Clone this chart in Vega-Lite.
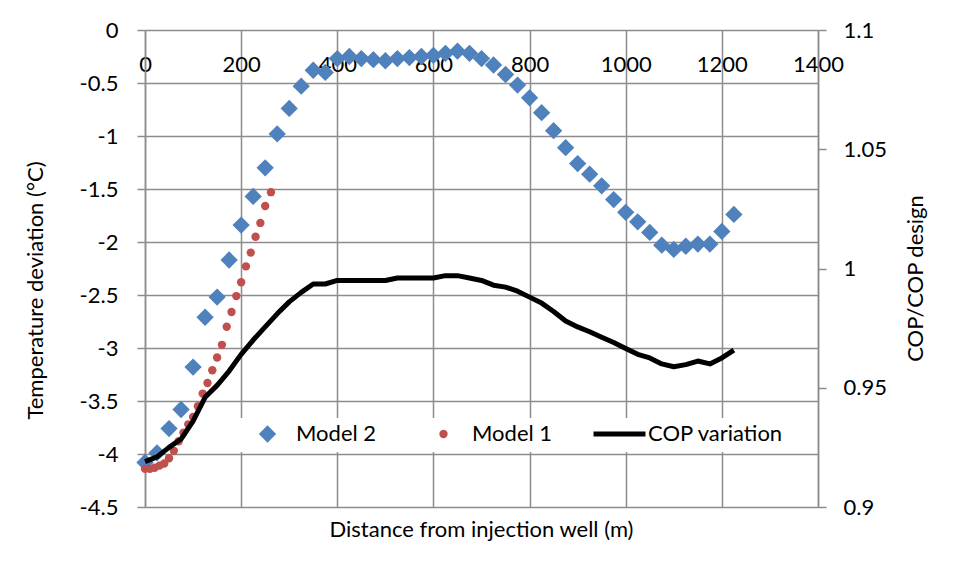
{
  "$schema": "https://vega.github.io/schema/vega-lite/v6.json",
  "width": 673,
  "height": 477,
  "autosize": {"type": "none"},
  "padding": {"left": 145, "top": 30, "right": 135, "bottom": 72},
  "background": "white",
  "title": {"text": "Distance from injection well (m)", "orient": "bottom", "anchor": "middle", "frame": "group", "baseline": "top", "offset": 2, "font": "Lato", "fontSize": 22, "fontWeight": "normal", "color": "black"},
  "config": {
    "view": {"stroke": null},
    "axis": {"labelFont": "Lato", "labelFontSize": 22, "labelColor": "black", "titleFont": "Lato", "titleFontSize": 22, "titleFontWeight": "normal", "titleColor": "black", "gridColor": "#8c8c8c", "gridWidth": 1.5, "gridOpacity": 1, "domainColor": "#8c8c8c", "domainWidth": 1.5, "tickColor": "#8c8c8c", "tickWidth": 1.5}
  },
  "layer": [
    {
      "data": {"values": [
        {"series": "Model 2", "d": 0, "t": -4.08}, {"series": "Model 2", "d": 25, "t": -3.99}, {"series": "Model 2", "d": 50, "t": -3.76}, {"series": "Model 2", "d": 75, "t": -3.58}, {"series": "Model 2", "d": 100, "t": -3.18}, {"series": "Model 2", "d": 125, "t": -2.71}, {"series": "Model 2", "d": 150, "t": -2.52}, {"series": "Model 2", "d": 175, "t": -2.17}, {"series": "Model 2", "d": 200, "t": -1.84}, {"series": "Model 2", "d": 225, "t": -1.57}, {"series": "Model 2", "d": 250, "t": -1.30}, {"series": "Model 2", "d": 275, "t": -0.98}, {"series": "Model 2", "d": 300, "t": -0.74}, {"series": "Model 2", "d": 325, "t": -0.53}, {"series": "Model 2", "d": 350, "t": -0.38}, {"series": "Model 2", "d": 375, "t": -0.40}, {"series": "Model 2", "d": 400, "t": -0.27}, {"series": "Model 2", "d": 425, "t": -0.25}, {"series": "Model 2", "d": 450, "t": -0.27}, {"series": "Model 2", "d": 475, "t": -0.28}, {"series": "Model 2", "d": 500, "t": -0.29}, {"series": "Model 2", "d": 525, "t": -0.27}, {"series": "Model 2", "d": 550, "t": -0.26}, {"series": "Model 2", "d": 575, "t": -0.25}, {"series": "Model 2", "d": 600, "t": -0.24}, {"series": "Model 2", "d": 625, "t": -0.22}, {"series": "Model 2", "d": 650, "t": -0.20}, {"series": "Model 2", "d": 675, "t": -0.22}, {"series": "Model 2", "d": 700, "t": -0.27}, {"series": "Model 2", "d": 725, "t": -0.33}, {"series": "Model 2", "d": 750, "t": -0.42}, {"series": "Model 2", "d": 775, "t": -0.52}, {"series": "Model 2", "d": 800, "t": -0.64}, {"series": "Model 2", "d": 825, "t": -0.78}, {"series": "Model 2", "d": 850, "t": -0.95}, {"series": "Model 2", "d": 875, "t": -1.11}, {"series": "Model 2", "d": 900, "t": -1.26}, {"series": "Model 2", "d": 925, "t": -1.36}, {"series": "Model 2", "d": 950, "t": -1.47}, {"series": "Model 2", "d": 975, "t": -1.60}, {"series": "Model 2", "d": 1000, "t": -1.72}, {"series": "Model 2", "d": 1025, "t": -1.81}, {"series": "Model 2", "d": 1050, "t": -1.91}, {"series": "Model 2", "d": 1075, "t": -2.03}, {"series": "Model 2", "d": 1100, "t": -2.07}, {"series": "Model 2", "d": 1125, "t": -2.04}, {"series": "Model 2", "d": 1150, "t": -2.02}, {"series": "Model 2", "d": 1175, "t": -2.02}, {"series": "Model 2", "d": 1200, "t": -1.90}, {"series": "Model 2", "d": 1225, "t": -1.74},
        {"series": "Model 1", "d": 0, "t": -4.14}, {"series": "Model 1", "d": 10, "t": -4.14}, {"series": "Model 1", "d": 20, "t": -4.13}, {"series": "Model 1", "d": 30, "t": -4.11}, {"series": "Model 1", "d": 40, "t": -4.09}, {"series": "Model 1", "d": 50, "t": -4.04}, {"series": "Model 1", "d": 60, "t": -3.97}, {"series": "Model 1", "d": 70, "t": -3.88}, {"series": "Model 1", "d": 80, "t": -3.80}, {"series": "Model 1", "d": 90, "t": -3.72}, {"series": "Model 1", "d": 100, "t": -3.65}, {"series": "Model 1", "d": 110, "t": -3.55}, {"series": "Model 1", "d": 120, "t": -3.43}, {"series": "Model 1", "d": 130, "t": -3.33}, {"series": "Model 1", "d": 140, "t": -3.21}, {"series": "Model 1", "d": 150, "t": -3.09}, {"series": "Model 1", "d": 160, "t": -2.97}, {"series": "Model 1", "d": 170, "t": -2.80}, {"series": "Model 1", "d": 180, "t": -2.66}, {"series": "Model 1", "d": 190, "t": -2.51}, {"series": "Model 1", "d": 200, "t": -2.38}, {"series": "Model 1", "d": 210, "t": -2.23}, {"series": "Model 1", "d": 220, "t": -2.10}, {"series": "Model 1", "d": 230, "t": -1.95}, {"series": "Model 1", "d": 240, "t": -1.82}, {"series": "Model 1", "d": 250, "t": -1.66}, {"series": "Model 1", "d": 262, "t": -1.53}
      ]},
      "mark": {"type": "point", "filled": true, "opacity": 1, "strokeWidth": 5},
      "encoding": {
        "x": {"field": "d", "type": "quantitative", "scale": {"domain": [0, 1400], "nice": false}, "axis": {"orient": "top", "values": [0, 200, 400, 600, 800, 1000, 1200, 1400], "labelExpr": "toString(datum.value)", "title": null, "domain": false, "ticks": false, "tickSize": 0, "labelPadding": -34, "labelBaseline": "middle", "labelFlush": false, "labelOverlap": false, "grid": true}},
        "y": {"field": "t", "type": "quantitative", "scale": {"domain": [-4.5, 0], "nice": false, "zero": false}, "axis": {"orient": "left", "values": [0, -0.5, -1, -1.5, -2, -2.5, -3, -3.5, -4, -4.5], "labelExpr": "toString(datum.value)", "tickSize": 8, "labelPadding": 19, "grid": true, "title": "Temperature deviation (°C)", "titleAngle": 270, "titleX": -110, "titleY": 260, "titleAlign": "center", "titleBaseline": "middle"}},
        "color": {"field": "series", "type": "nominal", "scale": {"domain": ["Model 2", "Model 1", "COP variation"], "range": ["#4F81BD", "#C0504D", "black"]},
          "legend": {"orient": "none", "legendX": 87, "legendY": 388, "direction": "horizontal", "columns": 3, "clipHeight": 18, "title": null, "fillColor": "white", "padding": 7, "labelOffset": 0, "columnPadding": 38, "labelFont": "Lato", "labelFontSize": 22, "labelColor": "black", "symbolStrokeWidth": 5, "symbolOpacity": 1}},
        "shape": {"field": "series", "type": "nominal", "scale": {"domain": ["Model 2", "Model 1", "COP variation"], "range": ["diamond", "circle", "stroke"]}},
        "size": {"field": "series", "type": "nominal", "scale": {"type": "ordinal", "domain": ["Model 2", "Model 1", "COP variation"], "range": [300, 70, 2700]}},
        "stroke": {"field": "series", "type": "nominal", "scale": {"domain": ["Model 2", "Model 1", "COP variation"], "range": ["transparent", "transparent", "black"]}}
      }
    },
    {
      "data": {"values": [
        {"d": 0, "cop": 0.919}, {"d": 25, "cop": 0.921}, {"d": 50, "cop": 0.925}, {"d": 75, "cop": 0.9285}, {"d": 100, "cop": 0.936}, {"d": 125, "cop": 0.946}, {"d": 150, "cop": 0.951}, {"d": 175, "cop": 0.957}, {"d": 200, "cop": 0.964}, {"d": 225, "cop": 0.970}, {"d": 250, "cop": 0.9755}, {"d": 275, "cop": 0.981}, {"d": 300, "cop": 0.986}, {"d": 325, "cop": 0.990}, {"d": 350, "cop": 0.9935}, {"d": 375, "cop": 0.9935}, {"d": 400, "cop": 0.995}, {"d": 425, "cop": 0.995}, {"d": 450, "cop": 0.995}, {"d": 475, "cop": 0.995}, {"d": 500, "cop": 0.995}, {"d": 525, "cop": 0.996}, {"d": 550, "cop": 0.996}, {"d": 575, "cop": 0.996}, {"d": 600, "cop": 0.996}, {"d": 625, "cop": 0.997}, {"d": 650, "cop": 0.997}, {"d": 675, "cop": 0.996}, {"d": 700, "cop": 0.995}, {"d": 725, "cop": 0.993}, {"d": 750, "cop": 0.9922}, {"d": 775, "cop": 0.9905}, {"d": 800, "cop": 0.988}, {"d": 825, "cop": 0.9855}, {"d": 850, "cop": 0.982}, {"d": 875, "cop": 0.978}, {"d": 900, "cop": 0.9755}, {"d": 925, "cop": 0.9735}, {"d": 950, "cop": 0.9712}, {"d": 975, "cop": 0.969}, {"d": 1000, "cop": 0.9665}, {"d": 1025, "cop": 0.964}, {"d": 1050, "cop": 0.9625}, {"d": 1075, "cop": 0.960}, {"d": 1100, "cop": 0.9588}, {"d": 1125, "cop": 0.9597}, {"d": 1150, "cop": 0.9612}, {"d": 1175, "cop": 0.960}, {"d": 1200, "cop": 0.9625}, {"d": 1225, "cop": 0.9658}
      ]},
      "mark": {"type": "line", "strokeWidth": 5, "strokeJoin": "round", "strokeCap": "butt", "color": "black"},
      "encoding": {
        "x": {"field": "d", "type": "quantitative", "scale": {"domain": [0, 1400], "nice": false}, "axis": null},
        "y": {"field": "cop", "type": "quantitative", "scale": {"domain": [0.9, 1.1], "nice": false, "zero": false}, "axis": {"orient": "right", "values": [0.9, 0.95, 1, 1.05, 1.1], "labelExpr": "toString(datum.value)", "tickSize": 8, "labelPadding": 17, "grid": false, "title": "COP/COP design", "titleAngle": 270, "titleX": 97, "titleY": 248, "titleAlign": "center", "titleBaseline": "middle"}}
      }
    }
  ],
  "resolve": {"scale": {"y": "independent"}, "axis": {"x": "independent"}}
}
